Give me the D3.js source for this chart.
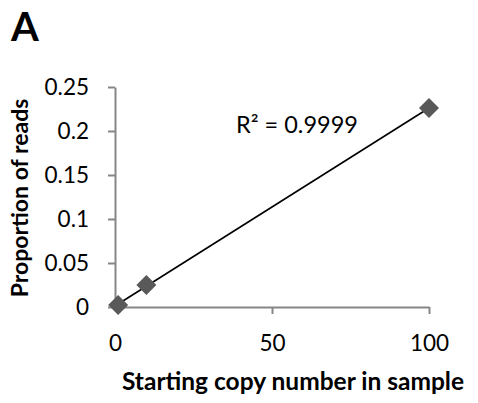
<!DOCTYPE html>
<html>
<head>
<meta charset="utf-8">
<script src="https://cdn.jsdelivr.net/npm/d3@7"></script>
<style>
  body { margin: 0; background: #fff; }
  svg { display: block; }
  text { font-family: Lato, "Open Sans", sans-serif; }
</style>
</head>
<body>
<div id="chart"></div>
<script>
// starting copy number vs proportion of reads
const copyNumbers = [1, 10, 100];
const proportions = [0.0022, 0.025, 0.226];
const xTicks = [0, 50, 100];
const yTicks = [0, 0.05, 0.1, 0.15, 0.2, 0.25];
const rSquaredLabel = "R² = 0.9999";

const W = 478, H = 403;
const svg = d3.select("#chart").append("svg")
    .attr("width", W)
    .attr("height", H);

const x = d3.scaleLinear().domain([0, 100]).range([115, 429]);
const y = d3.scaleLinear().domain([0, 0.25]).range([307, 87]);

const axisColor = "#868686";

// panel letter
svg.append("text")
    .attr("x", 11)
    .attr("y", 41)
    .attr("font-size", 40)
    .attr("font-weight", "bold")
    .text("A");

// y axis
const yAxis = svg.append("g")
    .attr("transform", `translate(${x(0)},0)`)
    .call(d3.axisLeft(y).tickValues(yTicks).tickSize(7).tickSizeOuter(0).tickPadding(19)
        .tickFormat(d => d3.format("")(+d.toFixed(2))));

// x axis
const xAxis = svg.append("g")
    .attr("transform", `translate(0,${y(0)})`)
    .call(d3.axisBottom(x).tickValues(xTicks).tickSize(7).tickSizeOuter(0).tickPadding(21));

[yAxis, xAxis].forEach(g => {
    g.select(".domain").attr("stroke", axisColor).attr("stroke-width", 2);
    g.selectAll(".tick line").attr("stroke", axisColor).attr("stroke-width", 2);
    g.selectAll(".tick text")
        .attr("fill", "#000")
        .attr("font-size", 22.5)
        .attr("font-family", "Lato, 'Open Sans', sans-serif");
});
xAxis.selectAll(".tick").filter(d => d === 0).select("line").remove();

// least squares trendline
const n = copyNumbers.length;
const mx = d3.mean(copyNumbers), my = d3.mean(proportions);
let sxy = 0, sxx = 0;
for (let i = 0; i < n; i++) {
    sxy += (copyNumbers[i] - mx) * (proportions[i] - my);
    sxx += (copyNumbers[i] - mx) ** 2;
}
const slope = sxy / sxx, intercept = my - slope * mx;
const xExt = d3.extent(copyNumbers);

svg.append("line")
    .attr("x1", x(xExt[0]))
    .attr("y1", y(intercept + slope * xExt[0]))
    .attr("x2", x(xExt[1]))
    .attr("y2", y(intercept + slope * xExt[1]))
    .attr("stroke", "#000")
    .attr("stroke-width", 1.6);

// diamond markers
svg.selectAll(".pt")
    .data(copyNumbers.map((c, i) => ({ c, p: proportions[i] })))
    .enter().append("path")
    .attr("class", "pt")
    .attr("d", d3.symbol().type(d3.symbolSquare).size(200))
    .attr("transform", d => `translate(${x(d.c)},${y(d.p)}) rotate(45)`)
    .attr("fill", "#595959");

// R squared
svg.append("text")
    .attr("x", 236)
    .attr("y", 133)
    .attr("font-size", 23.5)
    .text(rSquaredLabel);

// axis titles
svg.append("text")
    .attr("x", 293)
    .attr("y", 390)
    .attr("text-anchor", "middle")
    .attr("font-size", 24.5)
    .attr("font-weight", "bold")
    .text("Starting copy number in sample");

svg.append("text")
    .attr("transform", `translate(28,198) rotate(-90)`)
    .attr("text-anchor", "middle")
    .attr("font-size", 23)
    .attr("font-weight", "bold")
    .text("Proportion of reads");
</script>
</body>
</html>
